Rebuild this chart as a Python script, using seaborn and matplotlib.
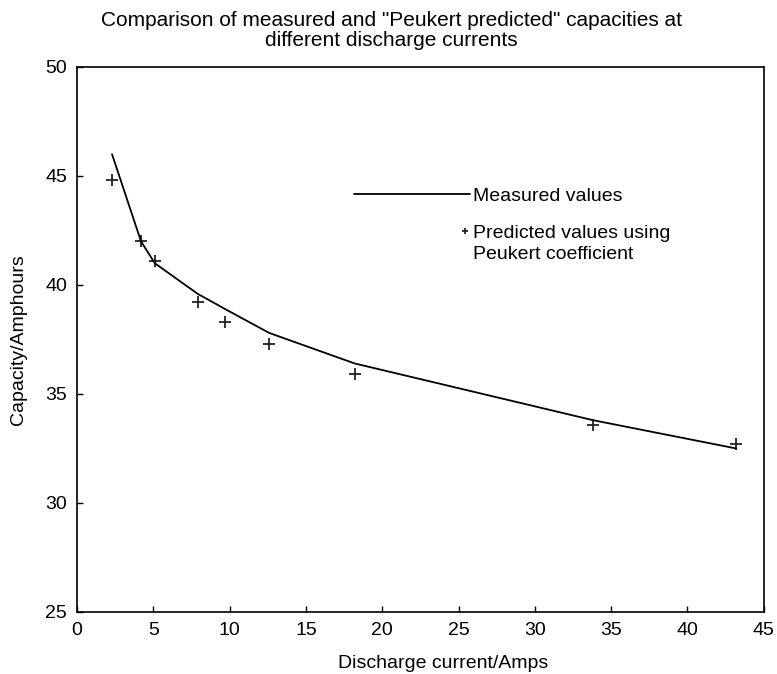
import matplotlib
matplotlib.use("Agg")
import matplotlib.pyplot as plt
from matplotlib.legend_handler import HandlerPathCollection
from matplotlib.collections import PathCollection
import seaborn as sns
import pandas as pd

current = [2.3, 4.2, 5.1, 7.9, 9.7, 12.6, 18.2, 33.8, 43.2]
measured = [46.0, 42.0, 41.0, 39.6, 38.9, 37.8, 36.4, 33.8, 32.5]
predicted = [44.8, 42.0, 41.1, 39.2, 38.3, 37.3, 35.9, 33.6, 32.7]
xticks = [0, 5, 10, 15, 20, 25, 30, 35, 40, 45]
yticks = [25, 30, 35, 40, 45, 50]


class RightMarkerHandler(HandlerPathCollection):
    def get_xdata(self, legend, xdescent, ydescent, width, height, fontsize):
        x = [-xdescent + width - 0.3 * fontsize]
        return x, x


sns.set_theme(style="ticks")
plt.rcParams['font.family'] = ['Liberation Sans', 'DejaVu Sans']
plt.rcParams.update({"text.color": "black", "axes.labelcolor": "black",
                     "xtick.color": "black", "ytick.color": "black"})

df = pd.DataFrame({"current": current, "measured": measured, "predicted": predicted})

fig = plt.figure(figsize=(7.77, 6.74), dpi=100)
ax = fig.add_axes([0.099, 0.092, 0.884, 0.8086])

sns.lineplot(data=df, x="current", y="measured", ax=ax, color="black", lw=1.3,
             label="Measured values", estimator=None, sort=False)
sns.scatterplot(data=df, x="current", y="predicted", ax=ax, marker="+", color="#222222",
                s=75, linewidth=1.3, label="Predicted values using\nPeukert coefficient")

ax.set_xlim(0, 45)
ax.set_ylim(25, 50)
ax.set_xticks(xticks)
ax.set_yticks(yticks)
ax.tick_params(direction="in", length=4, labelsize=14, width=1, pad=7)
for s in ax.spines.values():
    s.set_visible(True)
    s.set_linewidth(1.2)
    s.set_color("black")
ax.set_xlabel("Discharge current/Amps", fontsize=14)
ax.xaxis.set_label_coords(0.533, -0.078)
ax.set_ylabel("Capacity/Amphours", fontsize=14, labelpad=13)
ax.set_title('Comparison of measured and "Peukert predicted" capacities at\ndifferent discharge currents',
             fontsize=15, pad=15, linespacing=1.05, x=0.458)

leg = ax.legend(loc="upper left", bbox_to_anchor=(0.403, 0.78), frameon=False,
                borderaxespad=0, borderpad=0,
                handlelength=6.0, fontsize=14, handletextpad=0.15, labelspacing=1.05,
                markerscale=0.55,
                handler_map={PathCollection: RightMarkerHandler(yoffsets=[1.45])})
leg.get_texts()[1].set_linespacing(1.3)

fig.savefig("out.png", dpi=100)
